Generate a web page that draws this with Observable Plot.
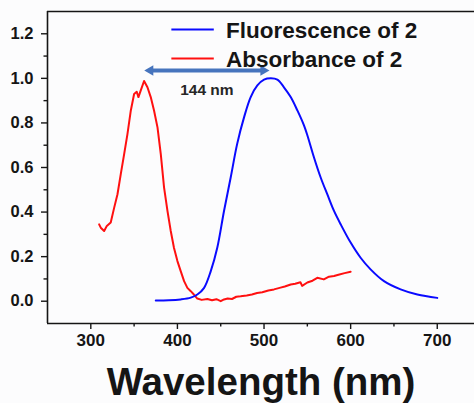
<!DOCTYPE html>
<html>
<head>
<meta charset="utf-8">
<script src="https://cdn.jsdelivr.net/npm/d3@7"></script>
<script src="https://cdn.jsdelivr.net/npm/@observablehq/plot@0.6"></script>
<style>
  html, body { margin: 0; padding: 0; background: #fcfcfd; }
  #chart { width: 474px; height: 403px; }
  svg { font-family: "Liberation Sans", Arial, sans-serif; }
</style>
</head>
<body>
<div id="chart"></div>
<script>
// Absorbance spectrum of compound 2 (wavelength in nm, normalised absorbance)
const absWavelength = [309.6, 311.5, 315.4, 318.5, 323, 327, 330.8, 334.6, 338.5, 342.3, 346.2, 350, 353, 355, 357.7, 361.5, 365.4, 369.2, 373, 377, 380.8, 384.6, 388.5, 392.3, 396, 400, 403.8, 407.7, 411.5, 415.4, 419, 423, 428, 434.6, 440, 445, 450, 453.8, 458, 463, 468, 473, 480, 486, 492, 498, 505, 511.5, 518, 524, 530.8, 536, 542, 544, 550, 556, 561.5, 569, 575, 580.8, 587, 593, 600];
const absValue = [0.345, 0.33, 0.315, 0.338, 0.353, 0.42, 0.48, 0.57, 0.66, 0.75, 0.856, 0.93, 0.94, 0.916, 0.946, 0.988, 0.96, 0.916, 0.856, 0.78, 0.66, 0.51, 0.405, 0.315, 0.24, 0.18, 0.135, 0.09, 0.06, 0.045, 0.03, 0.012, 0.006, 0.01, 0.004, 0.009, 0.0, 0.008, 0.012, 0.01, 0.02, 0.022, 0.026, 0.03, 0.037, 0.04, 0.048, 0.053, 0.06, 0.066, 0.075, 0.078, 0.085, 0.069, 0.084, 0.092, 0.105, 0.098, 0.11, 0.113, 0.12, 0.126, 0.132];

// Fluorescence emission spectrum of compound 2 (normalised intensity)
const fluWavelength = [375, 390, 403.8, 415.4, 423, 430.8, 438.5, 446, 453.8, 461.5, 469, 477, 484.6, 492.3, 500, 508, 515.4, 523, 530.8, 538.5, 546, 550, 557.7, 565.4, 573, 580.8, 588.5, 600, 611.5, 623, 638.5, 657.7, 677, 700];
const fluValue = [0.003, 0.004, 0.008, 0.016, 0.03, 0.06, 0.135, 0.24, 0.405, 0.555, 0.706, 0.826, 0.916, 0.968, 0.994, 1.0, 0.994, 0.96, 0.916, 0.856, 0.79, 0.745, 0.645, 0.555, 0.48, 0.405, 0.345, 0.263, 0.195, 0.143, 0.09, 0.053, 0.03, 0.015];

// Stokes shift between the absorption and emission maxima
const shiftStart = 362;
const shiftNm = 144;
const shiftLabel = "144 nm";

// Axis ticks
const xMajor = [300, 400, 500, 600, 700];
const xMinor = [350, 450, 550, 650];
const yMajor = [0, 0.2, 0.4, 0.6, 0.8, 1.0, 1.2];
const yMinor = [0.1, 0.3, 0.5, 0.7, 0.9, 1.1];

// Legend entries
const seriesNames = ["Fluorescence of 2", "Absorbance of 2"];
const seriesColors = ["#0a0aff", "#ff1010"];

const abs = absWavelength.map((w, i) => ({w, v: absValue[i]}));
const flu = fluWavelength.map((w, i) => ({w, v: fluValue[i]}));

const xDomain = [250, 743];
const yDomain = [-0.1, 1.3];

// legend placement in data units
const legendX1 = 393, legendX2 = 442, legendTextX = 456;
const legendY = [1.219, 1.089];
const legend = seriesNames.map((name, i) => ({name, color: seriesColors[i], y: legendY[i]}));

const arrowY = 1.035;
const arrowColor = "#4674bd";
const shift = [{x1: shiftStart, x2: shiftStart + shiftNm, y: arrowY}];

const ink = "#151515";

const chart = Plot.plot({
  width: 474,
  height: 403,
  marginTop: 11,
  marginLeft: 47,
  marginRight: 0,
  marginBottom: 80,
  style: {background: "transparent", color: ink, overflow: "visible"},
  x: {domain: xDomain},
  y: {domain: yDomain},
  marks: [
    // axes frame: left, bottom and top lines
    Plot.ruleX([xDomain[0]], {stroke: ink, strokeWidth: 1.6}),
    Plot.ruleY([yDomain[0]], {stroke: ink, strokeWidth: 1.6}),
    Plot.ruleY([yDomain[1]], {stroke: ink, strokeWidth: 1.6}),

    Plot.axisY({ticks: yMajor, tickSize: 6, tickPadding: 8, tickFormat: d3.format(".1f"),
      fontSize: 16.5, fontWeight: "bold", label: null, strokeWidth: 1.4}),
    Plot.axisY({ticks: yMinor, tickSize: 3.5, tickFormat: () => "", label: null, strokeWidth: 1.4}),
    Plot.axisX({ticks: xMajor, tickSize: 6, tickPadding: 4, tickFormat: d3.format("d"),
      fontSize: 17, fontWeight: "bold", label: null, strokeWidth: 1.4}),
    Plot.axisX({ticks: xMinor, tickSize: 3.5, tickFormat: () => "", label: null, strokeWidth: 1.4}),

    Plot.text(["Wavelength (nm)"], {frameAnchor: "bottom", dy: 59, lineAnchor: "middle",
      fontSize: 38.5, fontWeight: "bold", fill: ink}),

    // spectra
    Plot.line(abs, {x: "w", y: "v", stroke: seriesColors[1], strokeWidth: 2, curve: "linear"}),
    Plot.line(flu, {x: "w", y: "v", stroke: seriesColors[0], strokeWidth: 2, curve: "catmull-rom"}),

    // Stokes shift arrow
    Plot.arrow(shift, {x1: "x1", x2: "x2", y1: "y", y2: "y", stroke: arrowColor, strokeWidth: 4,
      headLength: 0, insetStart: 6, insetEnd: 6}),
    Plot.dot(shift, {x: "x1", y: "y", symbol: "triangle", r: 3.9, rotate: -90, dx: 5.8, fill: arrowColor, stroke: null}),
    Plot.dot(shift, {x: "x2", y: "y", symbol: "triangle", r: 3.9, rotate: 90, dx: -5.8, fill: arrowColor, stroke: null}),
    Plot.text(shift, {x: d => (d.x1 + d.x2) / 2, y: "y", text: () => shiftLabel, dy: 19,
      fontSize: 15.5, fontWeight: "bold", fill: "#262626"}),

    // legend
    Plot.link(legend, {x1: () => legendX1, x2: () => legendX2, y1: "y", y2: "y", stroke: "color", strokeWidth: 2}),
    Plot.text(legend, {x: () => legendTextX, y: "y", text: "name", textAnchor: "start", dy: 1,
      fontSize: 22.5, fontWeight: "bold", fill: ink})
  ]
});

document.getElementById("chart").appendChild(chart);
</script>
</body>
</html>
